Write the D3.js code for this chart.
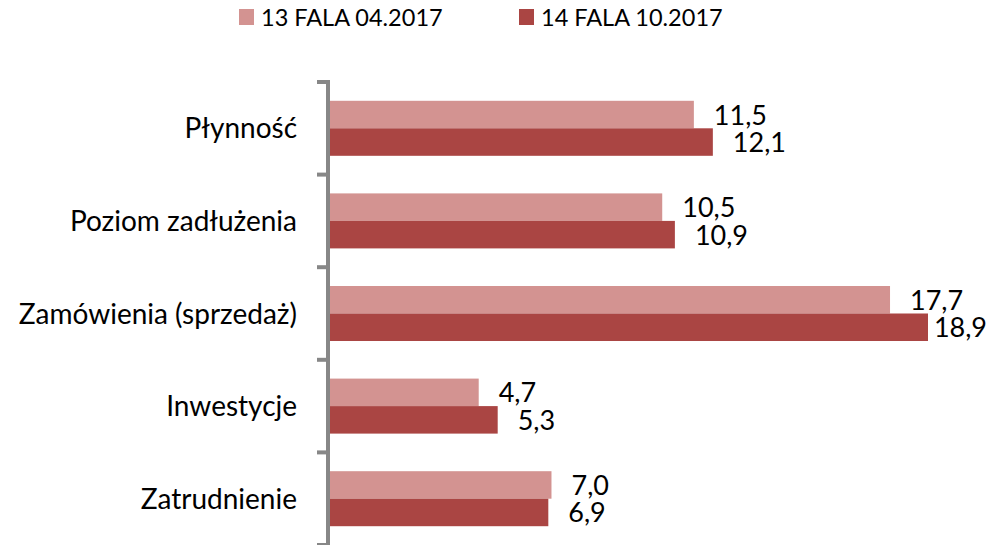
<!DOCTYPE html>
<html>
<head>
<meta charset="utf-8">
<script src="https://cdn.jsdelivr.net/npm/d3@7"></script>
<style>
    html, body { margin: 0; padding: 0; background: #fff; }
    svg text { font-family: Lato, "Open Sans", sans-serif; fill: #000; }
</style>
</head>
<body>
<svg id="chart" width="991" height="545"></svg>
<script>
// data
const categories = ['Płynność', 'Poziom zadłużenia', 'Zamówienia (sprzedaż)', 'Inwestycje', 'Zatrudnienie'];
const seriesNames = ['13 FALA 04.2017', '14 FALA 10.2017'];
const wave13 = [11.5, 10.5, 17.7, 4.7, 7.0];
const wave14 = [12.1, 10.9, 18.9, 5.3, 6.9];
const colors = ['#d39391', '#aa4543'];

const fmt = v => d3.format('.1f')(v).replace('.', ',');

const svg = d3.select('#chart');

const y = d3.scaleBand()
    .domain(categories)
    .range([82, 545])
    .paddingInner(0.406)
    .paddingOuter(0.203);
const y1 = d3.scaleBand().domain([0, 1]).range([0, y.bandwidth()]);
const x = d3.scaleLinear().domain([0, 18.9]).range([330, 928]);

const rows = categories.map((c, i) => ({cat: c, values: [wave13[i], wave14[i]]}));

// axis line + ticks between categories
const step = y.step();
const bounds = d3.range(categories.length + 1).map(i => y.range()[0] + i * step);
svg.append('line')
    .attr('x1', 328).attr('x2', 328)
    .attr('y1', bounds[0] - 2).attr('y2', bounds[bounds.length - 1])
    .attr('stroke', '#878787').attr('stroke-width', 4);
svg.selectAll('line.tick').data(bounds).join('line').attr('class', 'tick')
    .attr('x1', 317).attr('x2', 328)
    .attr('y1', d => d).attr('y2', d => d)
    .attr('stroke', '#878787').attr('stroke-width', 4);

// bars
const g = svg.selectAll('g.row').data(rows).join('g').attr('class', 'row')
    .attr('transform', d => `translate(0,${y(d.cat)})`);
g.selectAll('rect').data(d => d.values).join('rect')
    .attr('x', x(0))
    .attr('y', (d, i) => y1(i))
    .attr('width', d => x(d) - x(0))
    .attr('height', y1.bandwidth())
    .attr('fill', (d, i) => colors[i]);

// value labels
g.selectAll('text.val').data(d => d.values).join('text').attr('class', 'val')
    .attr('y', (d, i) => y1(i) + y1.bandwidth() / 2 + 10)
    .style('font-size', '27px')
    .text(d => fmt(d))
    .each(function (d) {
        const w = this.getComputedTextLength();
        d3.select(this).attr('x', Math.min(x(d) + 20, 987 - w));
    });

// category labels
svg.selectAll('text.cat').data(categories).join('text').attr('class', 'cat')
    .attr('x', 297)
    .attr('y', d => y(d) + y.bandwidth() / 2 + 10)
    .attr('text-anchor', 'end')
    .style('font-size', '28px')
    .text(d => d);

// legend
const legendX = [239, 519];
const lg = svg.selectAll('g.legend').data(seriesNames).join('g').attr('class', 'legend')
    .attr('transform', (d, i) => `translate(${legendX[i]},0)`);
lg.append('rect').attr('x', 0).attr('y', 9).attr('width', 15).attr('height', 16)
    .attr('fill', (d, i) => colors[i]);
lg.append('text').attr('x', 22).attr('y', 26)
    .style('font-size', '23.5px')
    .text(d => d);
</script>
</body>
</html>
